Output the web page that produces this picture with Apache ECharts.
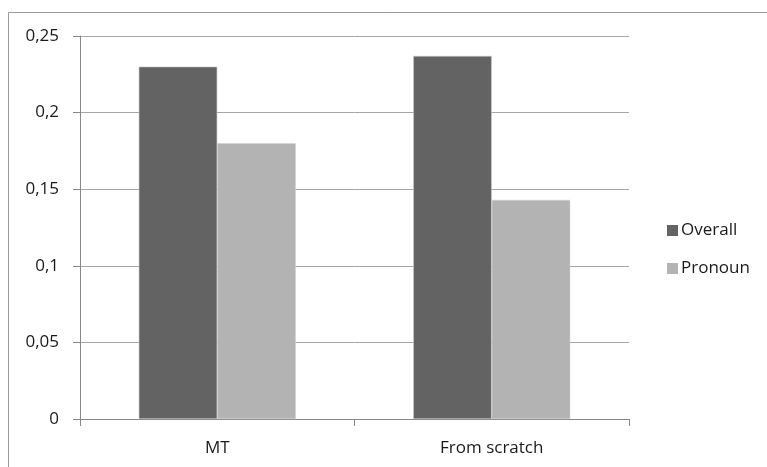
<!DOCTYPE html>
<html><head><meta charset="utf-8">
<script src="https://cdn.jsdelivr.net/npm/echarts@6/dist/echarts.min.js"></script>
<style>html,body{margin:0;padding:0;background:#fff}#c{width:767px;height:467px}</style>
</head><body><div id="c"></div>
<script>
const categories = ['MT', 'From scratch'];
const overall = [0.23, 0.237];
const pronoun = [0.18, 0.143];
const yTicks = [0, 0.05, 0.1, 0.15, 0.2, 0.25];

const chart = echarts.init(document.getElementById('c'));
const font = 'Open Sans';
chart.setOption({
  animation: false,
  graphic: [{type:'rect', shape:{x:8.5, y:12.5, width:800, height:500}, style:{fill:'none', stroke:'#999', lineWidth:1}, silent:true}],
  grid: {left: 80, right: 138, top: 36, bottom: 48, containLabel: false},
  legend: {
    orient: 'vertical', left: 662, top: 217, itemWidth: 11, itemHeight: 11, itemGap: 21,
    icon: 'rect',
    itemStyle: {borderWidth: 0},
    textStyle: {fontFamily: font, fontSize: 17, color: '#1a1a1a', padding:[0,0,0,-2]},
    data: ['Overall', 'Pronoun']
  },
  xAxis: {
    type: 'category', data: categories,
    axisLine: {lineStyle: {color: '#888'}},
    axisTick: {show: true, length: 7, lineStyle: {color: '#888'}},
    axisLabel: {fontFamily: font, fontSize: 17, color: '#1a1a1a', margin: 21}
  },
  yAxis: {
    type: 'value', min: 0, max: 0.25, interval: 0.05,
    axisLine: {show: true, lineStyle: {color: '#888'}},
    axisTick: {show: true, length: 7, lineStyle: {color: '#888'}},
    splitLine: {lineStyle: {color: '#a6a6a6'}},
    axisLabel: {fontFamily: font, fontSize: 17, color: '#1a1a1a', margin: 21,
      formatter: v => { const t = yTicks.find(x => Math.abs(x - v) < 1e-9); return String(t !== undefined ? t : v).replace('.', ','); }}
  },
  series: [
    {name: 'Overall', type: 'bar', data: overall, barGap: '0%', barCategoryGap: '42.8%',
     itemStyle: {color: '#636363', borderColor: '#c8c8c8', borderWidth: 0.6}},
    {name: 'Pronoun', type: 'bar', data: pronoun,
     itemStyle: {color: '#b3b3b3', borderColor: '#d0d0d0', borderWidth: 0.6}}
  ]
});
</script></body></html>
